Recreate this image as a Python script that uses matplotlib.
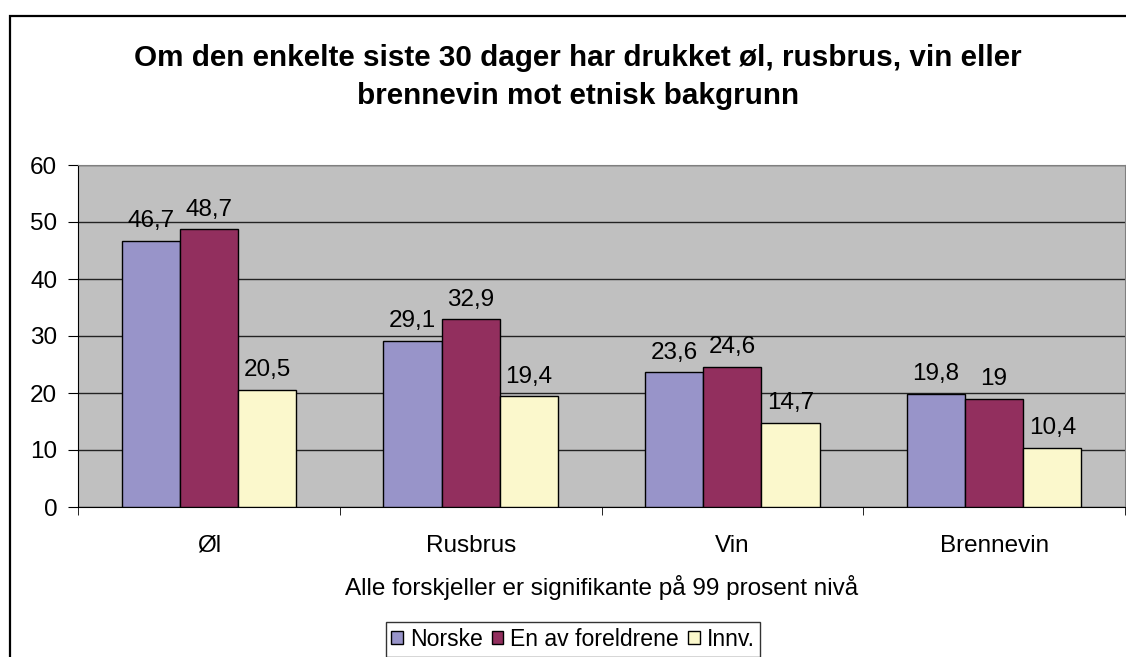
import numpy as np
import matplotlib
matplotlib.use("Agg")
import matplotlib.pyplot as plt
from matplotlib.patches import Rectangle

plt.rcParams['font.family'] = ['Liberation Sans', 'DejaVu Sans']

categories = ["Øl", "Rusbrus", "Vin", "Brennevin"]
series_names = ["Norske", "En av foreldrene", "Innv."]
norske = [46.7, 29.1, 23.6, 19.8]
en_av = [48.7, 32.9, 24.6, 19.0]
innv = [20.5, 19.4, 14.7, 10.4]
colors = ["#9894C9", "#922F5E", "#FBF8CC"]

W, H = 1126, 657
fs = 17.5
fig = plt.figure(figsize=(W / 100, H / 100), dpi=100)

# ramme rundt hele diagrammet (kuttet i høyre og nedre kant)
fig.patches.append(Rectangle((10 / W, -0.1), 1.2, 1.1 - 16 / H, transform=fig.transFigure,
                             fill=False, edgecolor="black", linewidth=1.6))

ax = fig.add_axes([78 / W, 1 - 507 / H, (1125 - 78) / W, (507 - 165) / H])
ax.set_facecolor("#C0C0C0")

x = np.arange(len(categories))
bw = 1 / 4.5
for i, (vals, name) in enumerate(zip([norske, en_av, innv], series_names)):
    pos = x + (i - 1) * bw
    ax.bar(pos, vals, width=bw, color=colors[i], edgecolor="black", linewidth=1, label=name, zorder=3)
    for p, v in zip(pos, vals):
        lab = ("%g" % v).replace(".", ",")
        ax.annotate(lab, (p, v), xytext=(0, 10), textcoords="offset points",
                    ha="center", va="baseline", fontsize=fs, zorder=4)

ax.set_xlim(-0.5, len(categories) - 0.5)
ax.set_ylim(0, 60)
ax.set_yticks(range(0, 61, 10))
ax.yaxis.grid(True, color="#222222", linewidth=1)
ax.set_axisbelow(True)
ax.tick_params(axis="y", labelsize=fs, length=7, direction="out", pad=8)

ax.set_xticks(x)
ax.set_xticklabels(categories, fontsize=fs)
ax.set_xticks(np.arange(-0.5, len(categories), 1), minor=True)
ax.tick_params(axis="x", which="major", length=0, pad=20)
ax.tick_params(axis="x", which="minor", length=6, direction="out")

for side in ["top", "right"]:
    ax.spines[side].set_color("#808080")
for side in ["left", "bottom"]:
    ax.spines[side].set_color("black")

ax.set_xlabel("Alle forskjeller er signifikante på 99 prosent nivå", fontsize=fs)
ax.xaxis.set_label_coords(0.5, -0.2)

fig.text(578 / W, 1 - 77 / H,
         "Om den enkelte siste 30 dager har drukket øl, rusbrus, vin eller\nbrennevin mot etnisk bakgrunn",
         ha="center", va="center", fontsize=21.3, fontweight="bold", linespacing=1.42)

leg = fig.legend(loc="upper center", bbox_to_anchor=(573 / W, 1 - 622 / H), ncol=3,
                 fontsize=16.6, frameon=True, fancybox=False, edgecolor="black",
                 handlelength=0.5, handleheight=0.5, handletextpad=0.3, columnspacing=0.4,
                 borderpad=0.25, borderaxespad=0)
leg.get_frame().set_linewidth(1)

fig.savefig("out.png", dpi=100)
